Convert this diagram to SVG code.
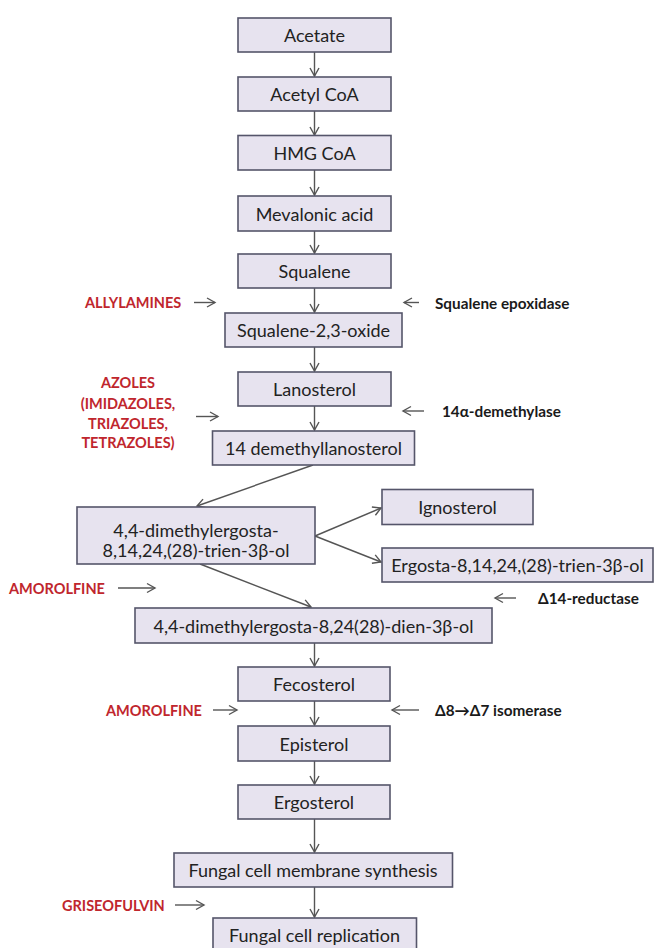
<svg xmlns="http://www.w3.org/2000/svg" width="654" height="948" viewBox="0 0 654 948">
<defs>
<style>
.box{fill:#e7e3ef;stroke:#55556a;stroke-width:1.6}
.t{font-family:Lato,"Open Sans","Liberation Sans",sans-serif;font-size:18px;fill:#222;text-anchor:middle;dominant-baseline:central}
.lab{font-family:Lato,"Open Sans","Liberation Sans",sans-serif;font-size:15.3px;font-weight:bold;fill:#1a1a1a;dominant-baseline:central}
.red{font-family:Lato,"Open Sans","Liberation Sans",sans-serif;font-size:14.5px;font-weight:bold;fill:#c0262d;dominant-baseline:central}
.c{stroke:#555;stroke-width:1.4;fill:none;marker-end:url(#ah)}
</style>
<marker id="ah" markerUnits="userSpaceOnUse" markerWidth="12" markerHeight="12" viewBox="-10 -6 12 12" refX="0" refY="0" orient="auto">
<path d="M-8,-4.5 L0,0 L-8,4.5" fill="none" stroke="#555" stroke-width="1.4"/>
</marker>
</defs>
<rect width="654" height="948" fill="#fff"/>
<g id="connectors">
<line class="c" x1="314.5" y1="52" x2="314.5" y2="76"/>
<line class="c" x1="314.5" y1="111" x2="314.5" y2="135"/>
<line class="c" x1="314.5" y1="170" x2="314.5" y2="195"/>
<line class="c" x1="314.5" y1="231" x2="314.5" y2="253"/>
<line class="c" x1="314.5" y1="288" x2="314.5" y2="312"/>
<line class="c" x1="314.5" y1="347" x2="314.5" y2="371"/>
<line class="c" x1="314.5" y1="406" x2="314.5" y2="430"/>
<line class="c" x1="313" y1="465" x2="197" y2="506"/>
<line class="c" x1="315" y1="536" x2="381" y2="508"/>
<line class="c" x1="315" y1="536" x2="381" y2="562"/>
<line class="c" x1="200" y1="564" x2="311" y2="607"/>
<line class="c" x1="314.5" y1="643" x2="314.5" y2="666"/>
<line class="c" x1="314.5" y1="701" x2="314.5" y2="725"/>
<line class="c" x1="314.5" y1="761" x2="314.5" y2="784"/>
<line class="c" x1="314.5" y1="819" x2="314.5" y2="852"/>
<line class="c" x1="314.5" y1="887" x2="314.5" y2="917"/>
<line class="c" x1="194" y1="302.5" x2="215" y2="302.5"/>
<line class="c" x1="419" y1="302.5" x2="404" y2="302.5"/>
<line class="c" x1="196" y1="416.5" x2="218" y2="416.5"/>
<line class="c" x1="424" y1="411" x2="403" y2="411"/>
<line class="c" x1="118" y1="588" x2="155" y2="588"/>
<line class="c" x1="516" y1="598" x2="495" y2="598"/>
<line class="c" x1="213" y1="710" x2="237" y2="710"/>
<line class="c" x1="419" y1="710" x2="392" y2="710"/>
<line class="c" x1="175" y1="905" x2="204" y2="905"/>
</g>
<g id="acetate"><rect class="box" x="238" y="18" width="153" height="34"/><text class="t" x="314.5" y="35">Acetate</text></g>
<g id="acetyl-coa"><rect class="box" x="238" y="77" width="153" height="34"/><text class="t" x="314.5" y="94">Acetyl CoA</text></g>
<g id="hmg-coa"><rect class="box" x="238" y="135.5" width="153" height="34.5"/><text class="t" x="314.5" y="153">HMG CoA</text></g>
<g id="mevalonic-acid"><rect class="box" x="238" y="196" width="153" height="35"/><text class="t" x="314.5" y="213.5">Mevalonic acid</text></g>
<g id="squalene"><rect class="box" x="238" y="254" width="153" height="34"/><text class="t" x="314.5" y="271">Squalene</text></g>
<g id="squalene-oxide"><rect class="box" x="225" y="313" width="177" height="34"/><text class="t" x="313.5" y="330">Squalene-2,3-oxide</text></g>
<g id="lanosterol"><rect class="box" x="238" y="372" width="153" height="34"/><text class="t" x="314.5" y="389">Lanosterol</text></g>
<g id="demethyllanosterol"><rect class="box" x="212.5" y="431" width="202" height="34"/><text class="t" x="313.5" y="448">14 demethyllanosterol</text></g>
<g id="trien"><rect class="box" x="77" y="507" width="238" height="57"/><text class="t" x="196" y="530">4,4-dimethylergosta-</text><text class="t" x="196" y="550">8,14,24,(28)-trien-3β-ol</text></g>
<g id="ignosterol"><rect class="box" x="382" y="489.5" width="151" height="35"/><text class="t" x="457.5" y="507">Ignosterol</text></g>
<g id="ergosta-trien"><rect class="box" x="382" y="548" width="271" height="34"/><text class="t" x="517.5" y="565">Ergosta-8,14,24,(28)-trien-3β-ol</text></g>
<g id="dien"><rect class="box" x="135" y="608" width="357" height="35"/><text class="t" x="313.5" y="625.5">4,4-dimethylergosta-8,24(28)-dien-3β-ol</text></g>
<g id="fecosterol"><rect class="box" x="238" y="667" width="152" height="34"/><text class="t" x="314" y="684">Fecosterol</text></g>
<g id="episterol"><rect class="box" x="238" y="726" width="152" height="35"/><text class="t" x="314" y="743.5">Episterol</text></g>
<g id="ergosterol"><rect class="box" x="238" y="785" width="152" height="34"/><text class="t" x="314" y="802">Ergosterol</text></g>
<g id="membrane"><rect class="box" x="174" y="853" width="278.5" height="34"/><text class="t" x="313" y="870">Fungal cell membrane synthesis</text></g>
<g id="replication"><rect class="box" x="213" y="918" width="203.5" height="34"/><text class="t" x="314.5" y="935">Fungal cell replication</text></g>
<g id="labels">
<text class="red" x="85" y="302.5">ALLYLAMINES</text>
<text class="lab" x="435" y="302.5">Squalene epoxidase</text>
<text class="red" x="128" y="382" text-anchor="middle">AZOLES</text>
<text class="red" x="128" y="403" text-anchor="middle">(IMIDAZOLES,</text>
<text class="red" x="128" y="423" text-anchor="middle">TRIAZOLES,</text>
<text class="red" x="128" y="442" text-anchor="middle">TETRAZOLES)</text>
<text class="lab" x="442" y="411">14α-demethylase</text>
<text class="red" x="9" y="588">AMOROLFINE</text>
<text class="lab" x="538" y="598">Δ14-reductase</text>
<text class="red" x="106" y="710">AMOROLFINE</text>
<text class="lab" x="435" y="710">Δ8→Δ7 isomerase</text>
<text class="red" x="62" y="905">GRISEOFULVIN</text>
</g>
</svg>
